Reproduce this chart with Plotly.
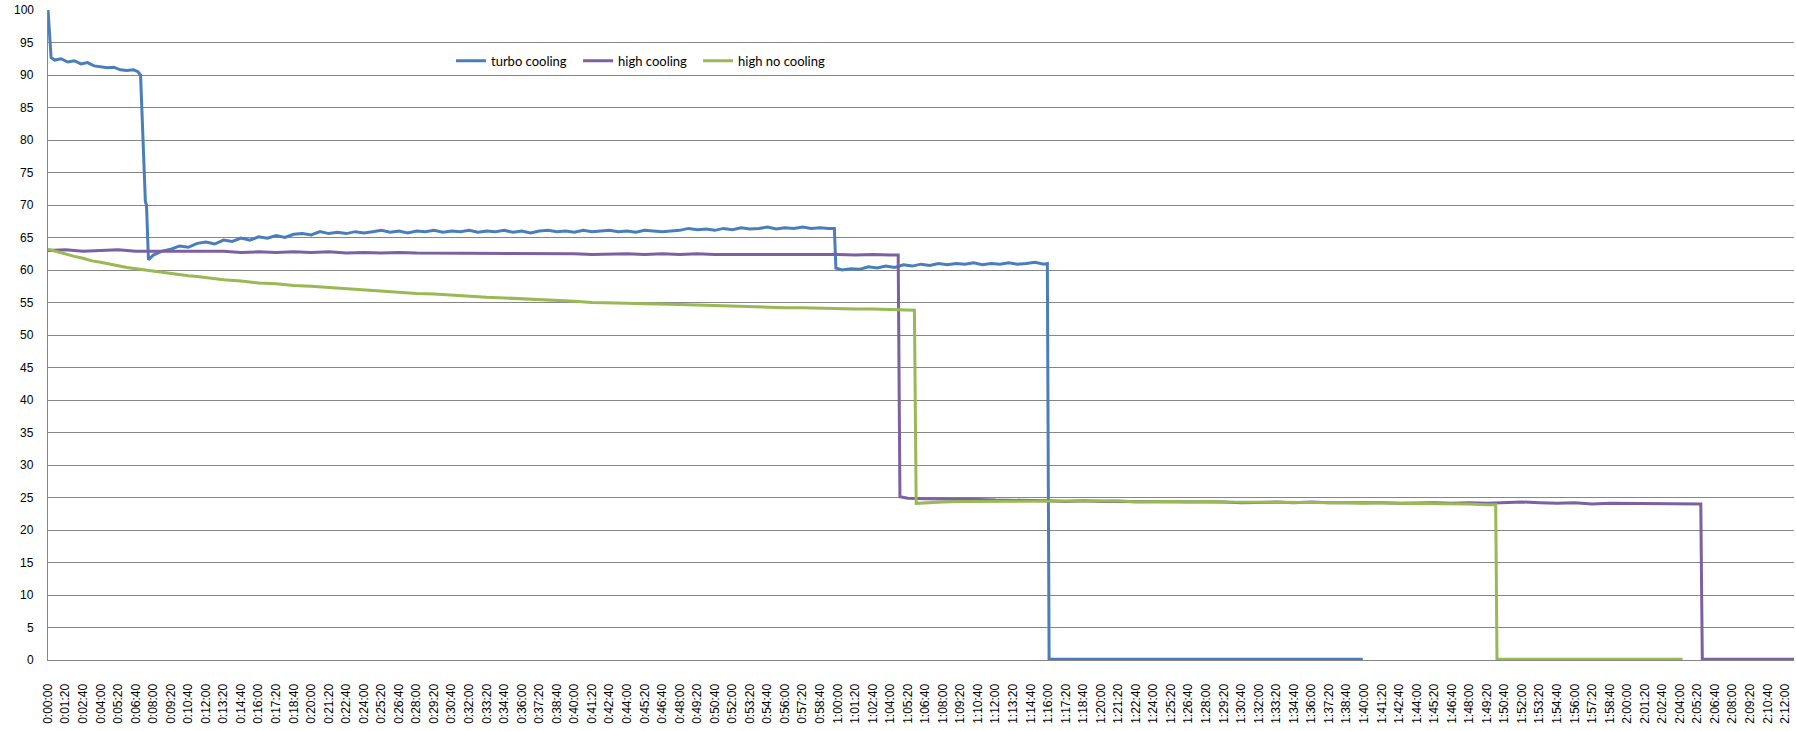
import plotly.graph_objects as go

# ---- data (seconds, value) ----
turbo_points = [
    (0, 100), (6, 96), (14, 92.7), (30, 92.3), (60, 92.5), (90, 92.0), (120, 92.2), (150, 91.7),
    (180, 91.9), (210, 91.4), (240, 91.3), (270, 91.1), (300, 91.2), (330, 90.8), (360, 90.7),
    (390, 90.8), (410, 90.5), (422, 90.0), (444, 70.5), (449, 70.0), (458, 61.6),
    (480, 62.3), (520, 62.9), (560, 63.2), (600, 63.7), (640, 63.5), (680, 64.1), (720, 64.3),
    (760, 64.0), (800, 64.6), (840, 64.4), (880, 64.9), (920, 64.6), (960, 65.1), (1000, 64.9),
    (1040, 65.3), (1080, 65.0), (1120, 65.5), (1160, 65.6), (1200, 65.4), (1240, 65.9),
    (1280, 65.6), (1320, 65.8), (1360, 65.6), (1400, 65.9), (1440, 65.7), (1480, 65.9),
    (1520, 66.1), (1560, 65.8), (1600, 66.0), (1640, 65.7), (1680, 66.0), (1720, 65.9),
    (1760, 66.1), (1800, 65.8), (1840, 66.0), (1880, 65.9), (1920, 66.1), (1960, 65.8),
    (2000, 66.0), (2040, 65.9), (2080, 66.1), (2120, 65.8), (2160, 66.0), (2200, 65.7),
    (2240, 66.0), (2280, 66.1), (2320, 65.9), (2360, 66.0), (2400, 65.8), (2440, 66.1),
    (2480, 65.9), (2520, 66.0), (2560, 66.1), (2600, 65.9), (2640, 66.0), (2680, 65.8),
    (2720, 66.1), (2760, 66.0), (2800, 65.9), (2840, 66.0), (2880, 66.1), (2920, 66.4),
    (2960, 66.2), (3000, 66.3), (3040, 66.1), (3080, 66.4), (3120, 66.2), (3160, 66.5),
    (3200, 66.3), (3240, 66.4), (3280, 66.6), (3320, 66.3), (3360, 66.5), (3400, 66.4),
    (3440, 66.6), (3480, 66.4), (3520, 66.5), (3560, 66.4), (3585, 66.4),
    (3592, 60.3), (3620, 60.0), (3660, 60.2), (3700, 60.1), (3740, 60.5), (3780, 60.3),
    (3820, 60.6), (3860, 60.4), (3900, 60.8), (3940, 60.6), (3980, 60.9), (4020, 60.7),
    (4060, 61.0), (4100, 60.8), (4140, 61.0), (4180, 60.9), (4220, 61.1), (4260, 60.8),
    (4300, 61.0), (4340, 60.9), (4380, 61.1), (4420, 60.9), (4460, 61.0), (4500, 61.2),
    (4540, 60.9), (4556, 61.0), (4564, 0.1), (5994, 0.1),
]

high_cooling_points = [
    (0, 63.0), (80, 63.1), (160, 62.9), (240, 63.0), (320, 63.1), (400, 62.9), (480, 62.9),
    (560, 62.8), (640, 62.9), (720, 62.8), (800, 62.9), (880, 62.7), (960, 62.8), (1040, 62.7),
    (1120, 62.8), (1200, 62.7), (1280, 62.8), (1360, 62.6), (1440, 62.7), (1520, 62.6),
    (1600, 62.7), (1680, 62.6), (1760, 62.6), (1840, 62.5), (1920, 62.6), (2000, 62.5),
    (2080, 62.6), (2160, 62.5), (2240, 62.5), (2320, 62.6), (2400, 62.5), (2480, 62.4),
    (2560, 62.5), (2640, 62.5), (2720, 62.4), (2800, 62.5), (2880, 62.4), (2960, 62.5),
    (3040, 62.4), (3120, 62.4), (3200, 62.5), (3280, 62.4), (3360, 62.4), (3440, 62.5),
    (3520, 62.4), (3600, 62.4), (3680, 62.3), (3760, 62.4), (3840, 62.3), (3876, 62.3),
    (3884, 25.1), (3920, 24.9), (4000, 24.8), (4080, 24.8), (4160, 24.7), (4240, 24.7),
    (4320, 24.6), (4400, 24.6), (4480, 24.5), (4560, 24.5), (4640, 24.4), (4720, 24.5),
    (4800, 24.4), (4880, 24.4), (4960, 24.3), (5040, 24.4), (5120, 24.3), (5200, 24.3),
    (5280, 24.4), (5360, 24.3), (5440, 24.2), (5520, 24.3), (5600, 24.3), (5680, 24.2),
    (5760, 24.3), (5840, 24.2), (5920, 24.2), (6000, 24.3), (6080, 24.2), (6160, 24.1),
    (6240, 24.2), (6320, 24.2), (6400, 24.1), (6480, 24.2), (6560, 24.1), (6640, 24.2),
    (6720, 24.3), (6800, 24.2), (6880, 24.1), (6960, 24.2), (7040, 24.0), (7120, 24.1),
    (7200, 24.1), (7280, 24.0), (7360, 24.1), (7440, 24.0), (7520, 24.0), (7535, 24.0),
    (7542, 0.1), (7960, 0.1),
]

high_no_cooling_points = [
    (0, 63.2), (40, 62.8), (80, 62.5), (120, 62.1), (160, 61.8), (200, 61.4), (240, 61.2),
    (280, 60.9), (320, 60.6), (360, 60.4), (400, 60.2), (440, 60.0), (480, 59.9), (520, 59.7),
    (560, 59.5), (600, 59.3), (640, 59.1), (680, 59.0), (720, 58.8), (800, 58.5), (880, 58.3),
    (960, 58.0), (1040, 57.9), (1120, 57.6), (1200, 57.5), (1280, 57.3), (1360, 57.1),
    (1440, 56.9), (1520, 56.8), (1600, 56.6), (1680, 56.4), (1760, 56.3), (1840, 56.1),
    (1920, 56.0), (2000, 55.8), (2080, 55.7), (2160, 55.6), (2240, 55.4), (2320, 55.3),
    (2400, 55.2), (2480, 55.0), (2560, 55.0), (2640, 54.9), (2720, 54.8), (2800, 54.8),
    (2880, 54.7), (2960, 54.6), (3040, 54.5), (3120, 54.5), (3200, 54.4), (3280, 54.3),
    (3360, 54.2), (3440, 54.2), (3520, 54.1), (3600, 54.1), (3680, 54.0), (3760, 54.0),
    (3840, 53.9), (3920, 53.8), (3950, 53.8),
    (3958, 24.1), (4000, 24.2), (4080, 24.3), (4160, 24.4), (4240, 24.4), (4320, 24.5),
    (4400, 24.4), (4480, 24.5), (4560, 24.4), (4640, 24.5), (4720, 24.4), (4800, 24.4),
    (4880, 24.5), (4960, 24.3), (5040, 24.4), (5120, 24.4), (5200, 24.3), (5280, 24.4),
    (5360, 24.3), (5440, 24.3), (5520, 24.2), (5600, 24.3), (5680, 24.2), (5760, 24.2),
    (5840, 24.3), (5920, 24.2), (6000, 24.1), (6080, 24.2), (6160, 24.1), (6240, 24.1),
    (6320, 24.0), (6400, 24.1), (6480, 24.0), (6560, 23.9), (6600, 23.9),
    (6606, 0.1), (7452, 0.1),
]

turbo_t, turbo_v = [p[0] for p in turbo_points], [p[1] for p in turbo_points]
hc_t, hc_v = [p[0] for p in high_cooling_points], [p[1] for p in high_cooling_points]
hnc_t, hnc_v = [p[0] for p in high_no_cooling_points], [p[1] for p in high_no_cooling_points]

series_names = ["turbo cooling", "high cooling", "high no cooling"]
series_colors = ["#4A7EBB", "#7D60A0", "#98B954"]

tick_seconds = list(range(0, 7921, 80))
tick_labels = ["%d:%02d:%02d" % (s // 3600, (s % 3600) // 60, s % 60) for s in tick_seconds]
y_ticks = list(range(0, 101, 5))

legend_ids = ["legend", "legend2", "legend3"]
legend_x = [0.2308, 0.3036, 0.3723]

fig = go.Figure()
for name, color, lg, tt, vv in zip(series_names, series_colors, legend_ids,
                                   [turbo_t, hc_t, hnc_t], [turbo_v, hc_v, hnc_v]):
    fig.add_trace(go.Scatter(x=tt, y=vv, mode="lines", name=name, legend=lg,
                             line=dict(color=color, width=3)))

# y tick labels as right-aligned texts next to the axis
for v in y_ticks:
    fig.add_annotation(x=0, xref="paper", y=v, yref="y", text=str(v), showarrow=False,
                       xanchor="right", yanchor="middle", xshift=-12,
                       font=dict(size=12, family="Liberation Sans, Arial, sans-serif",
                                 color="#000000"))

legend_font = dict(size=13, family="Lato, Liberation Sans, sans-serif", color="#000000")
legend_common = dict(orientation="h", y=0.922, xanchor="left", yanchor="middle",
                     bgcolor="rgba(0,0,0,0)", font=legend_font)

grid = "#868686"
fig.update_layout(
    width=1796, height=731,
    margin=dict(l=48, r=2, t=10, b=71),
    paper_bgcolor="white", plot_bgcolor="white",
    font=dict(family="Liberation Sans, Arial, sans-serif", size=12, color="#000000"),
    showlegend=True,
    legend=dict(x=legend_x[0], **legend_common),
    legend2=dict(x=legend_x[1], **legend_common),
    legend3=dict(x=legend_x[2], **legend_common),
    xaxis=dict(range=[0, 7960], tickmode="array", tickvals=tick_seconds, ticktext=tick_labels,
               tickangle=-90, showgrid=False, zeroline=False, showline=True, linecolor=grid,
               linewidth=1, ticks="", tickfont=dict(size=12), ticklabelstandoff=18,
               automargin=False),
    yaxis=dict(range=[0, 100], tickmode="array", tickvals=y_ticks, showgrid=True,
               gridcolor=grid, gridwidth=1, zeroline=False, showline=True, linecolor=grid,
               linewidth=1, ticks="", showticklabels=False, automargin=False),
)

fig.write_html("out.html", config={"displayModeBar": False},
               post_script="document.body.style.margin='0';document.body.style.overflow='hidden';")
